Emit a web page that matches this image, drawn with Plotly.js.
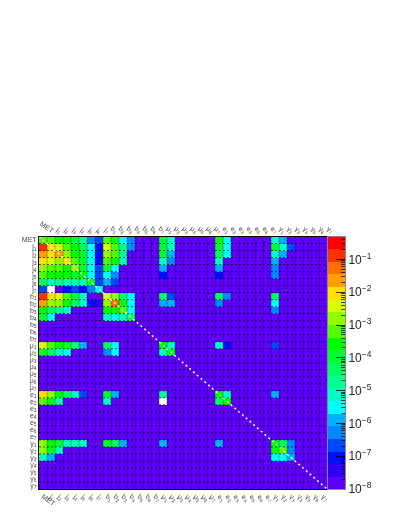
<!DOCTYPE html>
<html><head><meta charset="utf-8">
<script src="https://cdn.plot.ly/plotly-3.0.1.min.js"></script>
<style>html,body{margin:0;padding:0;background:#fff} #chart .xaxislayer-above, #chart .yaxislayer-above{filter:grayscale(1)}</style>
</head><body><div id="chart" style="width:399px;height:516px"></div>
<script>
// Object names, one per row and column
const names = ['MET',
 'j<sub>1</sub>','j<sub>2</sub>','j<sub>3</sub>','j<sub>4</sub>','j<sub>5</sub>','j<sub>6</sub>','j<sub>7</sub>',
 'b<sub>1</sub>','b<sub>2</sub>','b<sub>3</sub>','b<sub>4</sub>','b<sub>5</sub>','b<sub>6</sub>','b<sub>7</sub>',
 'μ<sub>1</sub>','μ<sub>2</sub>','μ<sub>3</sub>','μ<sub>4</sub>','μ<sub>5</sub>','μ<sub>6</sub>','μ<sub>7</sub>',
 'e<sub>1</sub>','e<sub>2</sub>','e<sub>3</sub>','e<sub>4</sub>','e<sub>5</sub>','e<sub>6</sub>','e<sub>7</sub>',
 'γ<sub>1</sub>','γ<sub>2</sub>','γ<sub>3</sub>','γ<sub>4</sub>','γ<sub>5</sub>','γ<sub>6</sub>','γ<sub>7</sub>'];

// log10 of the bin content; -8 is the floor of the colour axis, null is an unfilled (white) bin
const rowMET = [-3.2,-3.2,-3.6,-3.6,-4.0,-4.7,-6.3,-6.7,-3.2,-3.6,-5.5,-6.3,-8,-8,-8,-4.0,-5.1,-8,-8,-8,-8,-8,-3.6,-5.5,-8,-8,-8,-8,-8,-5.1,-5.9,-8,-8,-8,-8,-8];
const rowJ1 = [-0.9,-2.0,-2.4,-3.2,-3.6,-4.3,-5.5,-7.0,-2.4,-3.2,-4.7,-6.3,-8,-8,-8,-4.0,-5.1,-8,-8,-8,-8,-8,-4.0,-5.5,-8,-8,-8,-8,-8,-4.0,-5.1,-6.7,-8,-8,-8,-8];
const rowJ2 = [-1.7,-2.0,-1.7,-2.8,-3.6,-4.0,-5.5,-7.0,-2.8,-3.2,-4.7,-8,-8,-8,-8,-4.0,-5.9,-8,-8,-8,-8,-8,-4.3,-5.5,-8,-8,-8,-8,-8,-5.1,-5.9,-8,-8,-8,-8,-8];
const rowJ3 = [-2.0,-2.4,-2.8,-2.0,-3.2,-4.0,-5.5,-7.0,-3.2,-3.6,-5.1,-8,-8,-8,-8,-5.1,-6.3,-8,-8,-8,-8,-8,-5.1,-8,-8,-8,-8,-8,-8,-5.9,-8,-8,-8,-8,-8,-8];
const rowJ4 = [-2.8,-3.2,-3.2,-3.6,-2.8,-4.0,-5.5,-6.7,-4.0,-5.5,-8,-8,-8,-8,-8,-5.9,-8,-8,-8,-8,-8,-8,-5.9,-8,-8,-8,-8,-8,-8,-6.3,-8,-8,-8,-8,-8,-8];
const rowJ5 = [-3.2,-3.6,-3.6,-3.6,-4.0,-3.6,-5.5,-6.7,-5.5,-6.3,-8,-8,-8,-8,-8,-7.0,-8,-8,-8,-8,-8,-8,-7.0,-8,-8,-8,-8,-8,-8,-6.3,-8,-8,-8,-8,-8,-8];
const rowJ6 = [-4.3,-5.1,-4.7,-5.1,-5.1,-5.1,-4.0,-6.7,-5.9,-6.7,-8,-8,-8,-8,-8,-8,-8,-8,-8,-8,-8,-8,-8,-8,-8,-8,-8,-8,-8,-8,-8,-8,-8,-8,-8,-8];
const rowJ7 = [-6.7,null,-8,-7.0,-6.7,-7.0,-6.3,-5.5,-8,-8,-8,-8,-8,-8,-8,-8,-8,-8,-8,-8,-8,-8,-8,-8,-8,-8,-8,-8,-8,-8,-8,-8,-8,-8,-8,-8];
const rowB1 = [-0.9,-2.0,-2.4,-3.2,-4.0,-5.1,-8,-8,-2.4,-2.8,-4.3,-5.5,-8,-8,-8,-4.3,-6.7,-8,-8,-8,-8,-8,-4.3,-6.3,-8,-8,-8,-8,-8,-4.3,-8,-8,-8,-8,-8,-8];
const rowB2 = [-1.7,-2.8,-2.8,-3.6,-4.3,-5.1,-7.0,-7.4,-2.8,-1.3,-3.6,-5.5,-8,-8,-8,-5.9,-5.9,-8,-8,-8,-8,-8,-6.3,-8,-8,-8,-8,-8,-8,-5.5,-8,-8,-8,-8,-8,-8];
const rowB3 = [-3.6,-4.3,-4.7,-5.1,-8,-8,-8,-8,-3.6,-3.6,-3.2,-5.5,-8,-8,-8,-8,-8,-8,-8,-8,-8,-8,-8,-8,-8,-8,-8,-8,-8,-6.3,-8,-8,-8,-8,-8,-8];
const rowB4 = [-4.0,-5.5,-8,-8,-8,-8,-8,-8,-5.1,-5.5,-5.1,-4.3,-8,-8,-8,-8,-8,-8,-8,-8,-8,-8,-8,-8,-8,-8,-8,-8,-8,-8,-8,-8,-8,-8,-8,-8];
const rowMu1 = [-2.4,-3.2,-3.6,-4.0,-4.7,-5.9,-8,-8,-4.3,-5.5,-8,-8,-8,-8,-8,-3.6,-5.1,-8,-8,-8,-8,-8,-5.1,-7.0,-8,-8,-8,-8,-8,-6.7,-8,-8,-8,-8,-8,-8];
const rowMu2 = [-4.0,-4.3,-5.1,-5.5,-8,-8,-8,-8,-6.3,-5.5,-8,-8,-8,-8,-8,-5.1,-3.6,-8,-8,-8,-8,-8,-8,-8,-8,-8,-8,-8,-8,-8,-8,-8,-8,-8,-8,-8];
const rowE1 = [-2.0,-2.8,-3.6,-4.3,-5.1,-6.7,-8,-8,-4.0,-5.9,-8,-8,-8,-8,-8,-4.7,-8,-8,-8,-8,-8,-8,-3.6,-5.1,-8,-8,-8,-8,-8,-5.9,-8,-8,-8,-8,-8,-8];
const rowE2 = [-3.2,-4.0,-5.1,-8,-8,-8,-8,-8,-5.1,-8,-8,-8,-8,-8,-8,null,-8,-8,-8,-8,-8,-8,-4.3,-3.6,-8,-8,-8,-8,-8,-8,-8,-8,-8,-8,-8,-8];
const rowG1 = [-2.8,-3.6,-4.0,-5.1,-5.1,-5.1,-8,-8,-4.0,-4.3,-5.9,-8,-8,-8,-8,-5.9,-8,-8,-8,-8,-8,-8,-5.9,-8,-8,-8,-8,-8,-8,-3.6,-4.3,-6.3,-8,-8,-8,-8];
const rowG2 = [-2.8,-4.0,-5.1,-8,-8,-8,-8,-8,-8,-8,-8,-8,-8,-8,-8,-8,-8,-8,-8,-8,-8,-8,-8,-8,-8,-8,-8,-8,-8,-3.6,-3.2,-6.3,-8,-8,-8,-8];
const rowG3 = [-5.1,-5.9,-8,-8,-8,-8,-8,-8,-8,-8,-8,-8,-8,-8,-8,-8,-8,-8,-8,-8,-8,-8,-8,-8,-8,-8,-8,-8,-8,-5.5,-5.5,-5.9,-8,-8,-8,-8];
const rowEmpty = [-8,-8,-8,-8,-8,-8,-8,-8,-8,-8,-8,-8,-8,-8,-8,-8,-8,-8,-8,-8,-8,-8,-8,-8,-8,-8,-8,-8,-8,-8,-8,-8,-8,-8,-8,-8];

const zRows = [rowMET,rowJ1,rowJ2,rowJ3,rowJ4,rowJ5,rowJ6,rowJ7,rowB1,rowB2,rowB3,rowB4,rowEmpty,rowEmpty,rowEmpty,
 rowMu1,rowMu2,rowEmpty,rowEmpty,rowEmpty,rowEmpty,rowEmpty,rowE1,rowE2,rowEmpty,rowEmpty,rowEmpty,rowEmpty,rowEmpty,
 rowG1,rowG2,rowG3,rowEmpty,rowEmpty,rowEmpty,rowEmpty];

// 20 colour contours, bottom to top
const contourColors = ['#5f00ff','#3000ff','#0010ff','#0048ff','#0088ff','#00b0ff','#00ffff','#00ffc4','#00ff90','#00ff60',
 '#00ff30','#00ff00','#50ff00','#90ff00','#d8ff00','#ffe000','#ffa000','#ff7000','#ff3000','#ff0000'];
const logMin = -8, logMax = -0.3;
const decades = [-8,-7,-6,-5,-4,-3,-2,-1];
const decadeLabels = ['10<sup>\u22128</sup>','10<sup>\u22127</sup>','10<sup>\u22126</sup>','10<sup>\u22125</sup>','10<sup>\u22124</sup>','10<sup>\u22123</sup>','10<sup>\u22122</sup>','10<sup>\u22121</sup>'];
const diagonal = [0, 36];

const W = 399, H = 516;
const px = v => v / W, py = v => (H - v) / H;
const centers = names.map((_, i) => i + 0.5);
const scale = [];
contourColors.forEach((c, i) => { scale.push([i / 20, c]); scale.push([(i + 1) / 20, c]); });

// colour key: one heatmap column with one cell per contour
const step = (logMax - logMin) / contourColors.length;
const keyEdges = [], keyZ = [];
for (let i = 0; i <= contourColors.length; i++) keyEdges.push(logMin + i * step);
for (let i = 0; i < contourColors.length; i++) keyZ.push([logMin + (i + 0.5) * step]);
const minorVals = [];
decades.forEach(d => [2,3,4,5,6,7,8,9].forEach(k => { const v = d + Math.log10(k); if (v < logMax) minorVals.push(v); }));

// bin-boundary lines
const gridHx = [], gridHy = [], gridVx = [], gridVy = [];
for (let i = 1; i < names.length; i++) {
  gridHx.push(0, 36, null); gridHy.push(i, i, null);
  gridVx.push(i, i, null); gridVy.push(0, 36, null);
}

const tickFont = {family:'Liberation Sans, Arial, sans-serif', size:7, color:'#444'};
const traces = [
 {type:'heatmap', x:centers, y:centers, z:zRows, zmin:logMin, zmax:logMax, colorscale:scale, showscale:false, hoverinfo:'skip'},
 {type:'scatter', mode:'lines', x:gridVx, y:gridVy, hoverinfo:'skip', connectgaps:false, line:{color:'rgba(0,0,0,0.45)', width:1, dash:'2px,1px'}},
 {type:'scatter', mode:'lines', x:gridHx, y:gridHy, hoverinfo:'skip', connectgaps:false, line:{color:'rgba(0,0,0,0.65)', width:1, dash:'2px,2px'}},
 {type:'scatter', mode:'lines', x:diagonal, y:diagonal, hoverinfo:'skip', line:{color:'#fff', width:1.5, dash:'2px,3px'}},
 {type:'scatter', mode:'none', x:diagonal, y:diagonal, xaxis:'x2', yaxis:'y', hoverinfo:'skip'},
 {type:'heatmap', x:[0,1], y:keyEdges, z:keyZ, xaxis:'x3', yaxis:'y3', zmin:logMin, zmax:logMax, colorscale:scale, showscale:false, hoverinfo:'skip'}
];
const frame = {showgrid:false, zeroline:false, ticks:''};
const labelShift = 1.3;
const layout = {
 width:W, height:H, autosize:false, paper_bgcolor:'#fff', plot_bgcolor:'rgba(0,0,0,0)', showlegend:false,
 margin:{l:0, r:0, t:0, b:0, pad:0},
 xaxis:{...frame, domain:[px(39),px(327)], range:[0,36], anchor:'y', tickmode:'array', tickvals:centers, ticktext:names, tickangle:35, tickfont:tickFont, showline:true, linecolor:'#000', linewidth:1, mirror:true, side:'bottom'},
 xaxis2:{...frame, domain:[px(39),px(327 + labelShift*8)], range:[-labelShift,36], anchor:'y', side:'top', tickmode:'array', tickvals:centers, ticktext:names, tickangle:35, tickfont:tickFont},
 yaxis:{...frame, domain:[py(489),py(236.5)], range:[36,0], anchor:'x', tickmode:'array', tickvals:centers, ticktext:names, tickfont:tickFont, showline:true, linecolor:'#000', linewidth:1, mirror:true},
 xaxis3:{...frame, domain:[px(328),px(345)], range:[0,1], anchor:'y3', showticklabels:false, showline:true, linecolor:'#888', linewidth:1, mirror:true},
 yaxis3:{showgrid:false, zeroline:false, domain:[py(489),py(236.5)], range:[logMin,logMax], anchor:'x3', side:'right', tickmode:'array', tickvals:decades, ticktext:decadeLabels,
   ticks:'inside', ticklen:9, tickwidth:1, tickcolor:'rgba(0,0,0,0.8)', tickfont:{family:'Liberation Sans, Arial, sans-serif', size:12, color:'#222'},
   minor:{ticks:'inside', ticklen:4, tickwidth:1, tickcolor:'rgba(0,0,0,0.7)', tickmode:'array', tickvals:minorVals, showgrid:false},
   showline:true, linecolor:'#888', linewidth:1, mirror:true}
};
Plotly.newPlot('chart', traces, layout, {displayModeBar:false, staticPlot:true});
</script></body></html>
